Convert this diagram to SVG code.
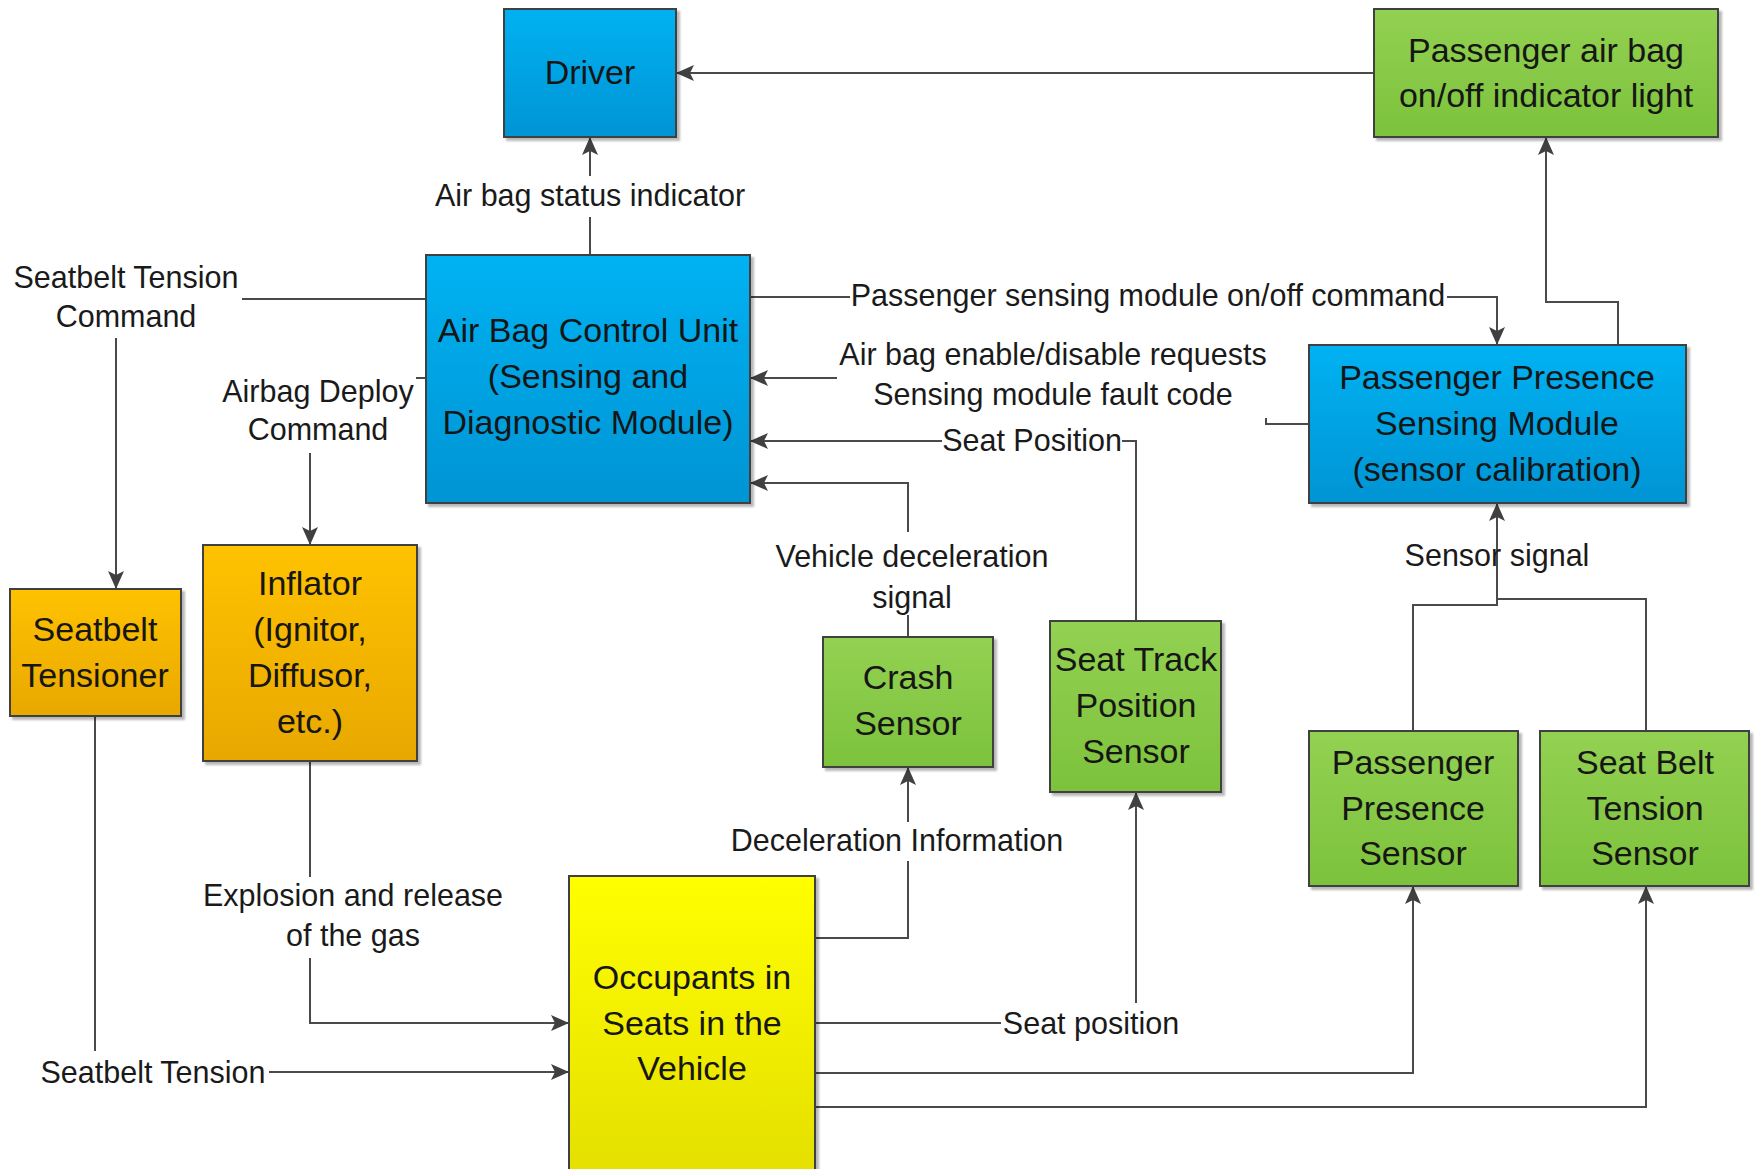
<svg xmlns="http://www.w3.org/2000/svg" width="1755" height="1169" viewBox="0 0 1755 1169">
  <defs>
    <linearGradient id="gBlue" x1="0" y1="0" x2="0" y2="1">
      <stop offset="0" stop-color="#00B2F2"/>
      <stop offset="1" stop-color="#0094D4"/>
    </linearGradient>
    <linearGradient id="gGreen" x1="0" y1="0" x2="0" y2="1">
      <stop offset="0" stop-color="#93D152"/>
      <stop offset="1" stop-color="#7CC23C"/>
    </linearGradient>
    <linearGradient id="gOrange" x1="0" y1="0" x2="0" y2="1">
      <stop offset="0" stop-color="#FFC205"/>
      <stop offset="1" stop-color="#E8A800"/>
    </linearGradient>
    <linearGradient id="gYellow" x1="0" y1="0" x2="0" y2="1">
      <stop offset="0" stop-color="#FFFF00"/>
      <stop offset="1" stop-color="#E3DE00"/>
    </linearGradient>
    <filter id="shadow" x="-5%" y="-5%" width="115%" height="115%">
      <feDropShadow dx="3" dy="3" stdDeviation="1.3" flood-color="#000" flood-opacity="0.28"/>
    </filter>
    <marker id="arrow" markerUnits="userSpaceOnUse" markerWidth="19" markerHeight="16" refX="18" refY="8" orient="auto">
      <path d="M0,0 L18,8 L0,16 L4,8 z" fill="#404040"/>
    </marker>
  </defs>
  <style>
    .box { stroke: #404040; stroke-width: 2; filter: url(#shadow); }
    .blue { fill: url(#gBlue); }
    .green { fill: url(#gGreen); }
    .orange { fill: url(#gOrange); }
    .yellow { fill: url(#gYellow); }
    .nt { font-family: "Liberation Sans", Arial, sans-serif; font-size: 34px; fill: #161616; text-anchor: middle; }
    .lt { font-family: "Liberation Sans", Arial, sans-serif; font-size: 30.5px; fill: #1a1a1a; text-anchor: middle; }
    .wire { fill: none; stroke: #4a4a4a; stroke-width: 2; marker-end: url(#arrow); }
    .join { fill: none; stroke: #4a4a4a; stroke-width: 2; }
    .bg { fill: #ffffff; }
  </style>

  <rect width="1755" height="1169" fill="#ffffff"/>

  <!-- connectors and their labels -->
  <g id="connectors">
    <path class="wire" d="M590,255 V137"/>
    <path class="wire" d="M1374,73 H676"/>
    <path class="wire" d="M1618,345 V302 H1546 V137"/>
    <path class="wire" d="M750,297 H1497 V345"/>
    <path class="wire" d="M1309,424 H1266 V378 H750"/>
    <path class="wire" d="M1136,621 V441 H750"/>
    <path class="wire" d="M908,637 V483 H750"/>
    <path class="wire" d="M815,938 H908 V767"/>
    <path class="wire" d="M815,1023 H1136 V792"/>
    <path class="wire" d="M815,1073 H1413 V886"/>
    <path class="wire" d="M815,1107 H1646 V886"/>
    <!-- passenger presence sensor joins the shared sensor-signal trunk -->
    <path class="join" d="M1413,731 V605 H1497 V598"/>
    <path class="wire" d="M1646,731 V599 H1497 V503"/>
    <path class="wire" d="M426,299 H116 V589"/>
    <path class="wire" d="M426,378 H310 V545"/>
    <path class="wire" d="M310,761 V1023 H569"/>
    <path class="wire" d="M95,716 V1072 H569"/>

    <g id="label-status">
      <rect class="bg" x="430" y="176" width="320" height="41"/>
      <text class="lt" x="590" y="206">Air bag status indicator</text>
    </g>
    <g id="label-onoff">
      <rect class="bg" x="850" y="282" width="597" height="36"/>
      <text class="lt" x="1148" y="306">Passenger sensing module on/off command</text>
    </g>
    <g id="label-requests">
      <rect class="bg" x="837" y="338" width="431" height="80"/>
      <text class="lt" x="1053" y="365">Air bag enable/disable requests</text>
      <text class="lt" x="1053" y="405">Sensing module fault code</text>
    </g>
    <g id="label-seatpos-up">
      <rect class="bg" x="942" y="425" width="180" height="34"/>
      <text class="lt" x="1032" y="451">Seat Position</text>
    </g>
    <g id="label-decel-signal">
      <rect class="bg" x="770" y="532" width="284" height="83"/>
      <text class="lt" x="912" y="567">Vehicle deceleration</text>
      <text class="lt" x="912" y="608">signal</text>
    </g>
    <g id="label-decel-info">
      <rect class="bg" x="724" y="822" width="346" height="39"/>
      <text class="lt" x="897" y="851">Deceleration Information</text>
    </g>
    <g id="label-seatpos-low">
      <rect class="bg" x="1001" y="1003" width="180" height="40"/>
      <text class="lt" x="1091" y="1034">Seat position</text>
    </g>
    <g id="label-sensor">
      <text class="lt" x="1497" y="566">Sensor signal</text>
    </g>
    <g id="label-tension-cmd">
      <rect class="bg" x="10" y="262" width="232" height="76"/>
      <text class="lt" x="126" y="288">Seatbelt Tension</text>
      <text class="lt" x="126" y="327">Command</text>
    </g>
    <g id="label-deploy-cmd">
      <rect class="bg" x="220" y="376" width="196" height="77"/>
      <text class="lt" x="318" y="402">Airbag Deploy</text>
      <text class="lt" x="318" y="440">Command</text>
    </g>
    <g id="label-explosion">
      <rect class="bg" x="205" y="877" width="296" height="81"/>
      <text class="lt" x="353" y="906">Explosion and release</text>
      <text class="lt" x="353" y="946">of the gas</text>
    </g>
    <g id="label-tension">
      <rect class="bg" x="37" y="1051" width="232" height="41"/>
      <text class="lt" x="153" y="1083">Seatbelt Tension</text>
    </g>
  </g>

  <!-- nodes -->
  <g id="driver">
    <rect class="box blue" x="504" y="9" width="172" height="128"/>
    <text class="nt" x="590" y="84">Driver</text>
  </g>
  <g id="indicator-light">
    <rect class="box green" x="1374" y="9" width="344" height="128"/>
    <text class="nt" x="1546" y="62">Passenger air bag</text>
    <text class="nt" x="1546" y="107">on/off indicator light</text>
  </g>
  <g id="control-unit">
    <rect class="box blue" x="426" y="255" width="324" height="248"/>
    <text class="nt" x="588" y="342">Air Bag Control Unit</text>
    <text class="nt" x="588" y="388">(Sensing and</text>
    <text class="nt" x="588" y="434">Diagnostic Module)</text>
  </g>
  <g id="presence-module">
    <rect class="box blue" x="1309" y="345" width="377" height="158"/>
    <text class="nt" x="1497" y="389">Passenger Presence</text>
    <text class="nt" x="1497" y="435">Sensing Module</text>
    <text class="nt" x="1497" y="481">(sensor calibration)</text>
  </g>
  <g id="seatbelt-tensioner">
    <rect class="box orange" x="10" y="589" width="171" height="127"/>
    <text class="nt" x="95" y="641">Seatbelt</text>
    <text class="nt" x="95" y="687">Tensioner</text>
  </g>
  <g id="inflator">
    <rect class="box orange" x="203" y="545" width="214" height="216"/>
    <text class="nt" x="310" y="595">Inflator</text>
    <text class="nt" x="310" y="641">(Ignitor,</text>
    <text class="nt" x="310" y="687">Diffusor,</text>
    <text class="nt" x="310" y="733">etc.)</text>
  </g>
  <g id="crash-sensor">
    <rect class="box green" x="823" y="637" width="170" height="130"/>
    <text class="nt" x="908" y="689">Crash</text>
    <text class="nt" x="908" y="735">Sensor</text>
  </g>
  <g id="seat-track-sensor">
    <rect class="box green" x="1050" y="621" width="171" height="171"/>
    <text class="nt" x="1136" y="671">Seat Track</text>
    <text class="nt" x="1136" y="717">Position</text>
    <text class="nt" x="1136" y="763">Sensor</text>
  </g>
  <g id="presence-sensor">
    <rect class="box green" x="1309" y="731" width="209" height="155"/>
    <text class="nt" x="1413" y="774">Passenger</text>
    <text class="nt" x="1413" y="820">Presence</text>
    <text class="nt" x="1413" y="865">Sensor</text>
  </g>
  <g id="belt-tension-sensor">
    <rect class="box green" x="1540" y="731" width="209" height="155"/>
    <text class="nt" x="1645" y="774">Seat Belt</text>
    <text class="nt" x="1645" y="820">Tension</text>
    <text class="nt" x="1645" y="865">Sensor</text>
  </g>
  <g id="occupants">
    <rect class="box yellow" x="569" y="876" width="246" height="310"/>
    <text class="nt" x="692" y="989">Occupants in</text>
    <text class="nt" x="692" y="1035">Seats in the</text>
    <text class="nt" x="692" y="1080">Vehicle</text>
  </g>
</svg>
